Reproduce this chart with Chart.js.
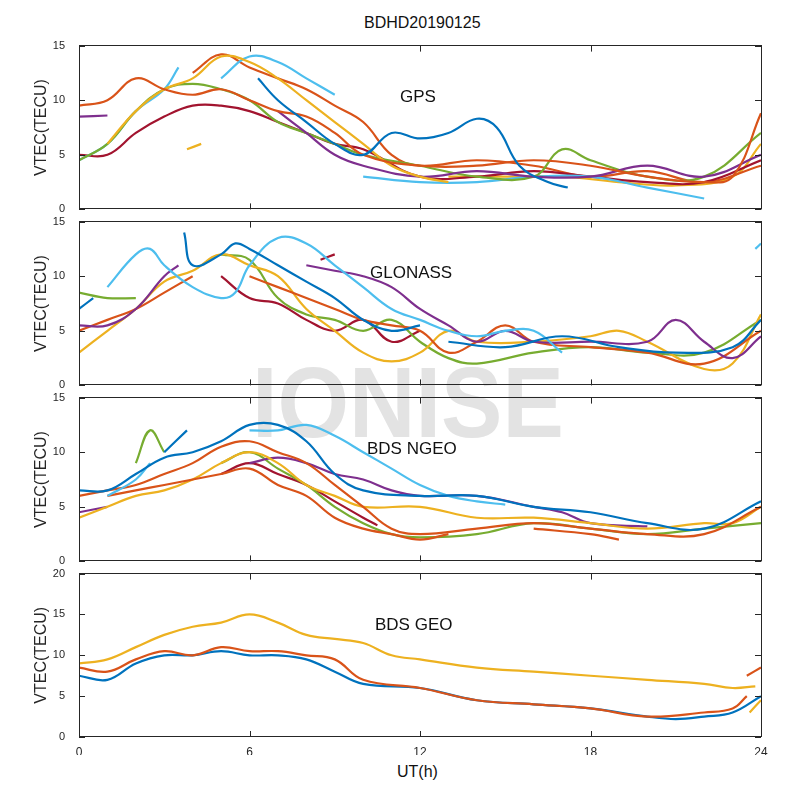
<!DOCTYPE html>
<html lang="en">
<head>
  <meta charset="UTF-8" />
  <title>BDHD20190125</title>
  <script src="https://cdn.jsdelivr.net/npm/chart.js"></script>
  <style>
    body { margin: 0; background: #fff; font-family: "Liberation Sans", Arial, sans-serif; }
    #wrap { position: relative; width: 800px; height: 800px; overflow: hidden; }
    .mark { position: absolute; left: 252px; top: 345px; font-size: 100px; font-weight: bold; color: #e3e3e3; transform: scaleX(0.92); transform-origin: left; }
    canvas { position: absolute; left: 0; }
    .lbl { position: absolute; font-size: 17px; color: #111; }
    .box { position: absolute; left: 79px; width: 681px; height: 162px; border: 1px solid #262626; pointer-events: none; }
  </style>
</head>
<body>
<div id="wrap">
  <div class="mark">IONISE</div>
  <div class="lbl" style="left:364px;top:14px;font-size:16px">BDHD20190125</div>
  <canvas id="p0"></canvas>
  <canvas id="p1"></canvas>
  <canvas id="p2"></canvas>
  <canvas id="p3"></canvas>
  <div class="box" style="top:45px"></div>
  <div class="box" style="top:221px"></div>
  <div class="box" style="top:397px"></div>
  <div class="box" style="top:573px"></div>
  <div class="lbl" style="left:400px;top:87px">GPS</div>
  <div class="lbl" style="left:370px;top:263px">GLONASS</div>
  <div class="lbl" style="left:367px;top:439px">BDS NGEO</div>
  <div class="lbl" style="left:375px;top:615px">BDS GEO</div>
  <div class="lbl" style="left:397px;top:763px;font-size:16px">UT(h)</div>
</div>
<script>
  const xTicks = [0, 6, 12, 18, 24];
  const C = { b: '#0072BD', r: '#D95319', y: '#EDB120', p: '#7E2F8E', g: '#77AC30', c: '#4DBEEE', d: '#A2142F' };

  // each entry: [colour, points [UT hour, VTEC]]
  const gps = [
    ['b', [[6.3,12],[7,10],[8,8],[9,6],[10,5],[11,7],[12,6.5],[13,7],[14,8.3],[14.7,7.5],[15.5,4],[16.5,2.5],[17.2,2]]],
    ['r', [[0,9.5],[1,10],[2,12],[3,11],[4,10.5],[5,11],[6,10],[7,9],[8,8.5],[9,7],[10,5],[12,4],[14,4],[16,4.5],[18,4],[20,3],[22,2.5],[23,3],[24,8.8]]],
    ['y', [[1,6],[2,9],[3,11],[4,12],[5,14],[6,13.5],[7,12],[8,10],[9,8],[10,6],[11,4],[12,3],[13,2.5]]],
    ['p', [[0,8.5],[1,8.6]]],
    ['p', [[7,9],[8,7],[9,5],[10,4],[12,3],[14,3.5],[16,3],[18,3],[20,4],[22,3],[24,5]]],
    ['g', [[0,4.5],[1,6],[2,9],[3,11],[4,11.5],[5,11],[6,10],[7,8],[8,7],[9,6],[10,5],[12,4],[14,3],[16,3],[17,5.5],[18,4.5],[20,3],[22,3],[24,7]]],
    ['c', [[0,4.5],[1,6],[2,9],[3,11],[3.5,13]]],
    ['c', [[5,12],[6,14],[7,13.5],[8,12],[9,10.5]]],
    ['c', [[10,3],[12,2.5],[14,2.5],[16,3],[18,3],[20,2],[22,1]]],
    ['d', [[0,5],[1,5],[2,7],[3,8.5],[4,9.5],[5,9.5],[6,9],[7,8],[8,7],[9,6],[10,5.5],[12,3],[14,3],[16,3.5],[18,3],[20,2.5],[22,2.5],[24,4.5]]],
    ['r', [[4,12.5],[5,14.2],[6,13],[7,12],[8,11],[9,9.5],[10,8],[11,5],[12,4],[14,4.5],[16,4],[18,3],[20,3.5],[22,2.5],[24,4]]],
    ['y', [[3.8,5.5],[4.3,6]]],
    ['y', [[13,3],[15,3],[17,3],[19,2.5],[21,2.2],[23,3],[24,6]]]
  ];
  const glonass = [
    ['b', [[3.7,14],[4,11],[5,12],[5.5,13],[6,12.5],[7,11],[8,9.5],[9,8],[10,6],[11,5],[12,5.5]]],
    ['b', [[0,7],[0.5,8]]],
    ['b', [[13,4],[15,3.5],[17,4.5],[19,3.5],[21,3],[23,3.5],[24,6]]],
    ['c', [[1,9],[2,12],[2.5,12.5],[3,11],[4,9],[5,8],[5.5,8.5],[6,11],[7,13.5],[8,13],[9,11],[10,9],[11,7],[12,6],[13,5],[14,4.5],[15,5],[16,5],[17,3]]],
    ['c', [[23.8,12.5],[24,13]]],
    ['p', [[0,5.5],[1,5.5],[2,7],[3,10],[3.5,11]]],
    ['p', [[8,11],[9,10.5],[10,10],[11,9],[12,7],[13,5.5],[14,4],[15,5],[16,4],[18,4],[20,4],[21,6],[22,4],[23,2.5],[24,4.5]]],
    ['r', [[0,5],[1,6],[2,7],[3,8.5],[4,10]]],
    ['r', [[6,10],[7,9],[8,8],[9,7],[10,6],[11,5.5],[12,5],[13,3],[14,4],[15,5.5],[16,4],[18,3.5],[20,3],[22,2],[24,5]]],
    ['y', [[0,3],[1,5],[2,7],[3,9.5],[4,10.5],[5,12],[6,11],[7,10],[8,7],[9,5],[10,3],[11,2.2],[12,3],[13,5],[14,4],[16,4],[18,4.5],[19,5],[20,4],[22,1.5],[23,2],[24,6.5]]],
    ['g', [[0,8.5],[1,8],[2,8]]],
    ['g', [[5,12],[6,11.5],[7,8],[8,6.5],[9,6],[10,5],[11,6],[12,4],[13,2.5],[14,2],[16,3],[18,3.5],[20,3],[22,3],[24,6]]],
    ['d', [[5,10],[6,8],[7,7.5],[8,6],[9,5],[10,6],[11,4],[12,5]]],
    ['d', [[8.5,11.5],[9,12]]]
  ];
  const ngeo = [
    ['b', [[0,6.5],[1,6.5],[2,8],[3,9.5],[4,10],[5,11],[6,12.5],[7,12.5],[8,11],[9,8],[10,6.5],[12,6],[14,6],[16,5],[18,4.5],[20,3.5],[22,3],[24,5.5]]],
    ['b', [[3,10],[3.8,12]]],
    ['c', [[1,6],[2,7.5],[2.5,9]]],
    ['c', [[6,12],[7,12],[8,12.5],[9,11.5],[10,10],[11,8.5],[12,7],[13,6],[14,5.5],[15,5.2]]],
    ['r', [[0,6],[1,6.5],[2,7],[3,8],[4,9],[5,10.5],[6,11],[7,10],[8,9],[9,7],[10,5],[11,3],[12,2.5],[14,3],[16,3.5],[18,3],[20,2.5],[22,2.5],[24,5]]],
    ['r', [[1,6],[2,6.5],[3,7],[4,7.5],[5,8],[6,8.5],[7,7],[8,6],[9,4],[10,3],[11,2.5],[12,2],[13,2.5]]],
    ['r', [[16,3],[18,2.5],[19,2]]],
    ['y', [[0,4],[1,5],[2,6],[3,6.5],[4,7.5],[5,9],[6,10],[7,9],[8,7],[9,6],[10,5],[12,5],[14,4],[16,4],[18,3.5],[20,3],[22,3.5],[23,3.5],[24,5]]],
    ['p', [[0,4.5],[1,5]]],
    ['p', [[6,9],[7,9.5],[8,9],[9,8],[10,7.5],[11,6.5],[12,6],[14,6],[16,5],[17,4.5],[18,3.5],[20,3.2]]],
    ['g', [[2,9],[2.5,12],[3,10]]],
    ['g', [[5,9],[6,10],[7,8.5],[8,7],[9,5],[10,3.5],[11,2.5],[12,2.2],[14,2.5],[16,3.5],[18,3],[20,2.5],[22,3],[24,3.5]]],
    ['d', [[5,8],[6,9],[7,8],[8,7],[9,5.5],[10,4],[10.5,3.3]]]
  ];
  const geo = [
    ['y', [[0,9],[1,9.5],[2,11],[3,12.5],[4,13.5],[5,14],[6,15],[7,14],[8,12.5],[9,12],[10,11.5],[11,10],[12,9.5],[14,8.5],[16,8],[18,7.5],[20,7],[22,6.5],[23,6],[23.8,6.2]]],
    ['y', [[23.6,3],[24,4.5]]],
    ['r', [[0,8.5],[1,8],[2,9.5],[3,10.5],[4,10],[5,11],[6,10.5],[7,10.5],[8,10],[9,9.5],[10,7],[12,6],[14,4.5],[16,4],[18,3.5],[20,2.5],[22,3],[23,3.5],[23.5,5]]],
    ['r', [[23.5,7.5],[24,8.5]]],
    ['b', [[0,7.5],[1,7],[2,9],[3,10],[4,10],[5,10.5],[6,10],[7,10],[8,9.5],[9,8],[10,6.5],[12,6],[14,4.5],[16,4],[18,3.5],[20,2.5],[21,2.2],[22,2.5],[23,3],[24,5]]]
  ];

  const panels = [
    { id: 'p0', data: gps, top: 45, yMax: 15, last: false },
    { id: 'p1', data: glonass, top: 221, yMax: 15, last: false },
    { id: 'p2', data: ngeo, top: 397, yMax: 15, last: false },
    { id: 'p3', data: geo, top: 573, yMax: 20, last: true }
  ];

  // inward tick marks like the MATLAB axes
  const tickPlugin = {
    id: 'inTicks',
    afterDatasetsDraw(chart) {
      const { ctx, chartArea: a, scales } = chart;
      ctx.save();
      ctx.strokeStyle = '#262626';
      ctx.lineWidth = 1;
      ctx.beginPath();
      xTicks.forEach(v => {
        const px = Math.round(scales.x.getPixelForValue(v)) + 0.5;
        ctx.moveTo(px, a.bottom); ctx.lineTo(px, a.bottom - 6);
        ctx.moveTo(px, a.top); ctx.lineTo(px, a.top + 6);
      });
      for (let v = 0; v <= scales.y.max; v += 5) {
        const py = Math.round(scales.y.getPixelForValue(v)) + 0.5;
        ctx.moveTo(a.left, py); ctx.lineTo(a.left + 6, py);
        ctx.moveTo(a.right, py); ctx.lineTo(a.right - 6, py);
      }
      ctx.stroke();
      ctx.restore();
    }
  };

  panels.forEach(p => {
    const cv = document.getElementById(p.id);
    cv.width = 800;
    cv.height = p.last ? 194 : 189;
    cv.style.top = (p.top - 12) + 'px';
    new Chart(cv, {
      type: 'line',
      data: {
        datasets: p.data.map(([c, pts]) => ({
          data: pts.map(([x, y]) => ({ x, y })),
          borderColor: C[c],
          borderWidth: 2.2,
          pointRadius: 0,
          tension: 0.4,
          fill: false
        }))
      },
      options: {
        responsive: false,
        animation: false,
        devicePixelRatio: 1,
        layout: { padding: { left: 32, right: 39, top: 6, bottom: p.last ? 0 : 1 } },
        plugins: { legend: { display: false }, tooltip: { enabled: false } },
        scales: {
          x: {
            type: 'linear', min: 0, max: 24,
            afterBuildTicks: s => { s.ticks = xTicks.map(v => ({ value: v })); },
            grid: { display: false },
            border: { display: false },
            ticks: { display: p.last, color: '#262626', font: { size: 12 }, padding: 0 },
            afterFit: s => { s.height = p.last ? 18 : 0; }
          },
          y: {
            min: 0, max: p.yMax,
            ticks: { stepSize: 5, color: '#262626', font: { size: 11 }, padding: 6 },
            grid: { display: false },
            border: { display: false },
            title: { display: true, text: 'VTEC(TECU)', color: '#262626', font: { size: 16 }, padding: 0 },
            afterFit: s => { s.width = 47; }
          }
        }
      },
      plugins: [tickPlugin]
    });
  });
</script>
</body>
</html>
